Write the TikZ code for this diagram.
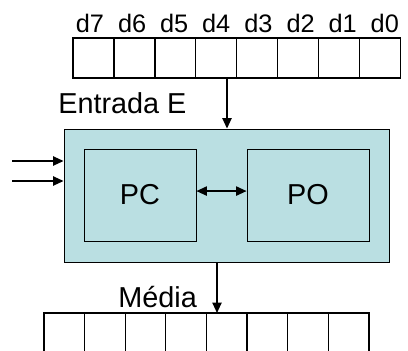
\documentclass[tikz,border=0pt]{standalone}
\usepackage{fontspec}
\setmainfont{Liberation Sans}
\usetikzlibrary{positioning,arrows.meta}
\definecolor{blocofill}{HTML}{BADFE2}

\begin{document}
\begin{tikzpicture}[
  x=0.025cm, y=-0.025cm,
  font=\fontsize{20.5}{24}\selectfont,
  cell/.style={draw, line width=0.9pt, minimum width=1.0225cm, minimum height=1cm, inner sep=0pt, outer sep=0pt},
  ocell/.style={cell, minimum width=1.015cm, minimum height=1.2cm},
  bloco/.style={draw, fill=blocofill, line width=0.6pt, inner sep=0pt},
  arr/.style={-{Triangle[length=2.6mm, width=2.3mm]}, line width=1.1pt},
  darr/.style={{Triangle[length=2.6mm, width=2.3mm]}-{Triangle[length=2.6mm, width=2.3mm]}, line width=1.1pt},
  dlbl/.style={font=\fontsize{18}{20}\selectfont, inner sep=0pt},
  lbl/.style={inner sep=0pt, anchor=base west}
]
\useasboundingbox (0,0) rectangle (408,350);
\clip (0,0) rectangle (408,350);

\node[cell] (d7) at (93.5,58) {};
\node[cell, right=0pt of d7] (d6) {};
\node[cell, right=0pt of d6] (d5) {};
\node[cell, right=0pt of d5] (d4) {};
\node[cell, right=0pt of d4] (d3) {};
\node[cell, right=0pt of d3] (d2) {};
\node[cell, right=0pt of d2] (d1) {};
\node[cell, right=0pt of d1] (d0) {};

\node[dlbl, above=3.5pt of d7, xshift=-2.5pt] (t7) {d7};
\node[dlbl, above=3.5pt of d6, xshift=-1.6pt] (t6) {d6};
\node[dlbl, above=3.5pt of d5, xshift=-0.8pt] (t5) {d5};
\node[dlbl, above=3.5pt of d4] (t4) {d4};
\node[dlbl, above=3.5pt of d3, xshift=0.9pt] (t3) {d3};
\node[dlbl, above=3.5pt of d2, xshift=1.8pt] (t2) {d2};
\node[dlbl, above=3.5pt of d1, xshift=2.6pt] (t1) {d1};
\node[dlbl, above=3.5pt of d0, xshift=3.5pt] (t0) {d0};

\node[bloco, minimum width=8.125cm, minimum height=3.325cm] (sistema) at (226.5,195.5) {};
\node[bloco, minimum width=2.8cm, minimum height=2.3cm] (pc) at (140,195) {PC};
\node[bloco, minimum width=3.05cm, minimum height=2.3cm] (po) at (308,195) {PO};

\node[lbl] (entrada) at (58,113) {Entrada E};
\node[lbl] (media) at (118,307) {Média};

\node[ocell] (m7) at (64.3,337) {};
\node[ocell, right=0pt of m7] (m6) {};
\node[ocell, right=0pt of m6] (m5) {};
\node[ocell, right=0pt of m5] (m4) {};
\node[ocell, right=0pt of m4] (m3) {};
\node[ocell, right=0pt of m3] (m2) {};
\node[ocell, right=0pt of m2] (m1) {};
\node[ocell, right=0pt of m1] (m0) {};

\coordinate (topo) at (227,78);
\coordinate (base) at (217,262);
\coordinate (in1) at (12,161);
\coordinate (in2) at (12,181);

\draw[arr] (topo) -- (topo |- sistema.north);
\draw[arr] (base) -- (base |- m4.north);
\draw[arr] (in1) -- (in1 -| sistema.west);
\draw[arr] (in2) -- (in2 -| sistema.west);
\draw[darr] ([yshift=2.8pt]pc.east) -- ([yshift=2.8pt]po.west);
\end{tikzpicture}
\end{document}
